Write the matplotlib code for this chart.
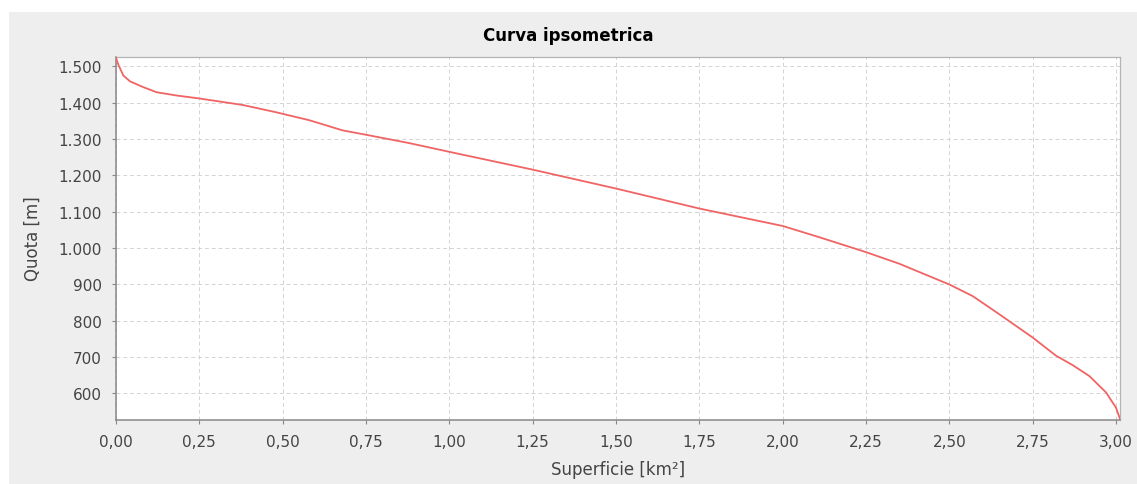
import numpy as np
import matplotlib
matplotlib.use("Agg")
import matplotlib.pyplot as plt
from matplotlib.patches import Rectangle
from matplotlib.ticker import FuncFormatter, MultipleLocator

# superficie cumulata (km2) e quota (m)
superficie = [0.0, 0.003, 0.007, 0.022, 0.042, 0.082, 0.122, 0.182, 0.249,
              0.38, 0.48, 0.58, 0.68, 0.75, 0.88, 1.0, 1.25, 1.5, 1.75,
              2.0, 2.11, 2.25, 2.35, 2.5, 2.57, 2.65, 2.75, 2.82, 2.87,
              2.92, 2.97, 3.0, 3.012]
quota = [1525, 1515, 1505, 1475, 1459, 1443, 1429, 1420, 1412,
         1394, 1374, 1352, 1324, 1312, 1289, 1265, 1216, 1164, 1109,
         1061, 1030, 989, 957, 900, 868, 818, 754, 704, 678,
         648, 603, 561, 530]

fig = plt.figure(figsize=(11.37, 4.85), dpi=100)
fig.patch.set_facecolor("white")
# sfondo grigio del pannello
fig.patches.append(Rectangle((9 / 1137, 0), 1 - 9 / 1137, (485 - 13) / 485,
                             transform=fig.transFigure, facecolor="#eeeeee",
                             edgecolor="none", zorder=-5))

ax = fig.add_axes([116 / 1137, 1 - 421 / 485, (1120 - 116) / 1137, (421 - 58) / 485])
ax.set_zorder(2)
ax.set_facecolor("white")

ax.plot(superficie, quota, color="#f06464", lw=1.3, zorder=3)

ax.set_xlim(0, 3.012)
ax.set_ylim(527, 1526)
ax.xaxis.set_major_locator(MultipleLocator(0.25))
ax.yaxis.set_major_locator(MultipleLocator(100))
ax.xaxis.set_major_formatter(FuncFormatter(lambda v, p: ("%.2f" % v).replace(".", ",")))
ax.yaxis.set_major_formatter(FuncFormatter(lambda v, p: "{:,.0f}".format(v).replace(",", ".")))

ax.grid(True, color="#d4d4d4", lw=0.7, linestyle=(0, (4, 3)))
ax.set_axisbelow(True)

for s in ["left", "bottom"]:
    ax.spines[s].set_color("#888888")
    ax.spines[s].set_linewidth(1.1)
for s in ["top", "right"]:
    ax.spines[s].set_color("#b4b4b4")
    ax.spines[s].set_linewidth(0.9)

ax.tick_params(axis="both", length=3, width=0.8, color="#888888",
               labelsize=11, labelcolor="#444444", pad=7)

fig.text(0.5, 1 - 36 / 485, "Curva ipsometrica", ha="center", va="center",
         fontsize=12, fontweight="bold", color="black")
fig.text(618 / 1137, 1 - 470 / 485, "Superficie [km²]", ha="center", va="center",
         fontsize=12, color="#444444")
fig.text(33 / 1137, 1 - 239 / 485, "Quota [m]", ha="center", va="center",
         rotation=90, fontsize=12, color="#444444")

fig.savefig("out.png", dpi=100, facecolor=fig.get_facecolor())
